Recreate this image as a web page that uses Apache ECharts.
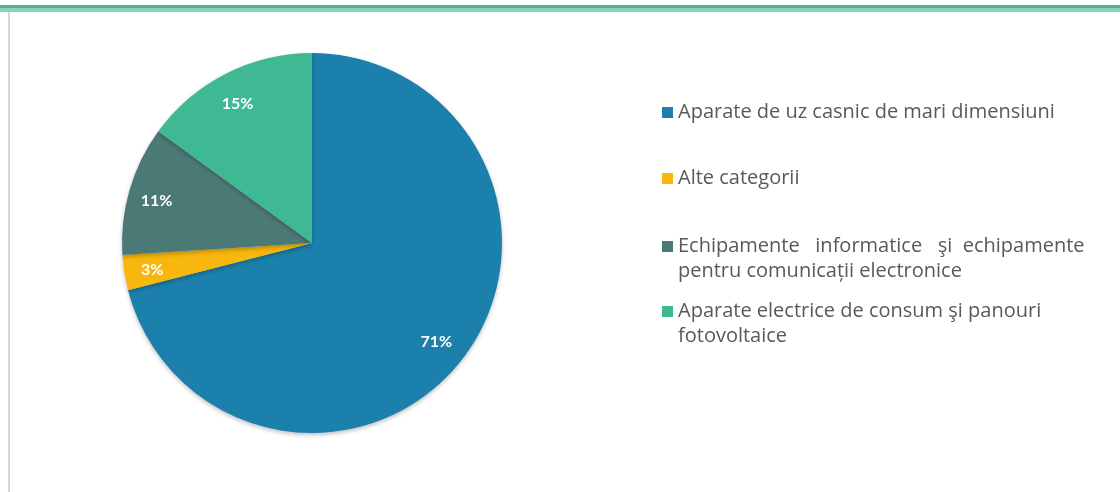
<!DOCTYPE html>
<html>
<head>
<meta charset="utf-8">
<script src="https://cdn.jsdelivr.net/npm/echarts@6/dist/echarts.min.js"></script>
<style>
  html, body { margin: 0; padding: 0; background: #fff; }
  #wrap { position: relative; width: 1120px; height: 492px; overflow: hidden; }
  .top-line { position: absolute; left: 0; top: 5px; width: 1120px; height: 3px; background: #58ad92; }
  .top-line2 { position: absolute; left: 0; top: 8px; width: 1120px; height: 4px; background: #8ad5b9; }
  .left-line { position: absolute; left: 8px; top: 12px; width: 2px; height: 480px; background: #d6d6d6; }
  #chart { position: absolute; left: 0; top: 0; width: 1120px; height: 492px; }
</style>
</head>
<body>
<div id="wrap">
  <div class="top-line"></div>
  <div class="top-line2"></div>
  <div class="left-line"></div>
  <div id="chart"></div>
</div>
<script>
// categorii si procente
const categories = [
  'Aparate de uz casnic de mari dimensiuni',
  'Alte categorii',
  'Echipamente informatice şi echipamente pentru comunicații electronice',
  'Aparate electrice de consum şi panouri fotovoltaice'
];
const values = [71, 3, 11, 15];
const colors = ['#1b80ac', '#f7b70c', '#4b7a76', '#3fb894'];
// textul din legenda, pe randuri
const legendText = [
  'Aparate de uz casnic de mari dimensiuni',
  'Alte categorii',
  'Echipamente   informatice   şi  echipamente\npentru comunicații electronice',
  'Aparate electrice de consum şi panouri\nfotovoltaice'
];

const center = [312, 243];
const font = '"Open Sans", Lato, sans-serif';

const chart = echarts.init(document.getElementById('chart'));

const legendTops = [100, 166, 209, 274];
const legends = categories.map(function (name, i) {
  const twoLines = legendText[i].indexOf('\n') >= 0;
  return {
    orient: 'vertical',
    left: 662,
    top: legendTops[i],
    padding: 0,
    itemWidth: 11,
    itemHeight: 11,
    icon: 'rect',
    selectedMode: false,
    data: [name],
    // un rand gol in fata ca iconita sa stea pe primul rand
    formatter: function () { return twoLines ? '\n' + legendText[i] : legendText[i]; },
    textStyle: {
      fontFamily: font,
      fontSize: 20,
      color: '#595959',
      lineHeight: 25
    }
  };
});

const option = {
  color: colors,
  animation: false,
  legend: legends,
  series: [{
    type: 'pie',
    center: center,
    radius: 190,
    startAngle: 90,
    clockwise: true,
    data: categories.map(function (name, i) { return { name: name, value: values[i] }; }),
    itemStyle: {
      shadowBlur: 4,
      shadowColor: 'rgba(0,0,0,0.25)',
      shadowOffsetY: 2
    },
    emphasis: { disabled: true },
    label: {
      position: 'inside',
      formatter: '{c}%',
      color: '#fff',
      fontFamily: 'Lato, sans-serif',
      fontWeight: 'bold',
      fontSize: 16
    },
    // etichetele sunt mai aproape de margine decat 'inside'
    labelLayout: function (p) {
      const lx = p.labelRect.x + p.labelRect.width / 2;
      const ly = p.labelRect.y + p.labelRect.height / 2;
      return { dx: (lx - center[0]) * 0.63 - 2, dy: (ly - center[1]) * 0.62 + 2 };
    },
    labelLine: { show: false }
  }]
};

chart.setOption(option);
</script>
</body>
</html>
